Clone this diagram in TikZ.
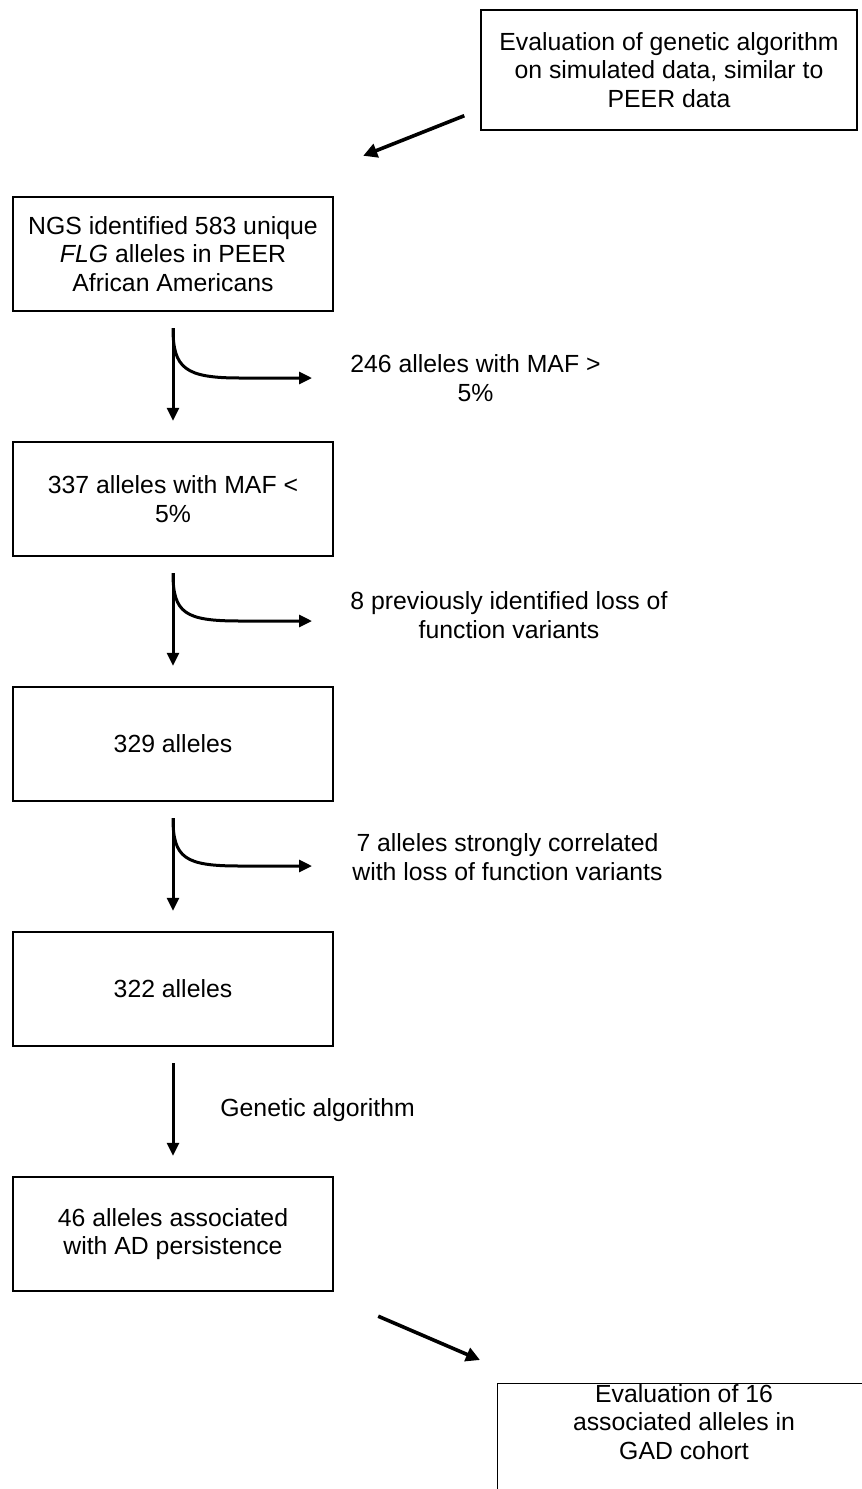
\documentclass[tikz,border=0pt]{standalone}
\usepackage{fontspec}
\setmainfont{Liberation Sans}
\usetikzlibrary{positioning,arrows.meta}

\begin{document}
\begin{tikzpicture}[x=0.5pt,y=-0.5pt,
font=\fontsize{12.4}{14.2}\selectfont,
box/.style={draw,rectangle,line width=1.2pt,minimum width=160pt,minimum height=57pt,align=center},
sidebox/.style={draw,rectangle,line width=0.7pt,align=center},
note/.style={inner sep=0pt,align=center},
arr/.style={line width=1.5pt,-{Triangle[length=6.5pt,width=6pt]}},
slant/.style={line width=1.8pt,-{Triangle[length=7pt,width=7pt]}}]
\clip (0,0) rectangle (862,1489);

% main column
\node (ngs) [box] at (173,254) {NGS identified 583 unique\\ \textit{FLG} alleles in PEER\\ African Americans};
\node (maf) [box,below=64.3pt of ngs] {337 alleles with MAF <\\ 5\%};
\node (lof) [box,below=64.3pt of maf] {329 alleles};
\node (corr) [box,below=64.3pt of lof] {322 alleles};
\node (ad) [box,below=64.3pt of corr] {46 alleles associated\\ with AD persistence};

% side boxes
\node (sim) [sidebox,minimum width=188pt,minimum height=60pt] at (669,70) {Evaluation of genetic algorithm\\ on simulated data, similar to\\ PEER data};
\node (gad) [sidebox,minimum width=200pt,minimum height=80pt,anchor=north west] at (497,1383) {};
\node (gadtext) [note] at (684,1422) {Evaluation of 16\\ associated alleles in\\ GAD cohort};

% removed alleles
\node (rej1) [note,anchor=west] at (350,378) {246 alleles with MAF >\\ 5\%};
\node (rej2) [note,anchor=west] at (350,615) {8 previously identified loss of\\ function variants};
\node (rej3) [note,anchor=west] at (352,857) {7 alleles strongly correlated\\ with loss of function variants};
\node (ga) [note,anchor=west] at (220,1110) {Genetic algorithm};

\coordinate (cut1) at (312,378);
\coordinate (cut2) at (312,621);
\coordinate (cut3) at (312,866);

% filtering steps
\draw[arr] ([yshift=-8pt]ngs.south) -- ([yshift=10pt]maf.north);
\draw[arr] ([yshift=-8pt]ngs.south) .. controls +(0,40) and (185,378) .. (240,378) -- (cut1);
\draw[arr] ([yshift=-8pt]maf.south) -- ([yshift=10pt]lof.north);
\draw[arr] ([yshift=-8pt]maf.south) .. controls +(0,40) and (185,621) .. (240,621) -- (cut2);
\draw[arr] ([yshift=-8pt]lof.south) -- ([yshift=10pt]corr.north);
\draw[arr] ([yshift=-8pt]lof.south) .. controls +(0,40) and (185,866) .. (240,866) -- (cut3);
\draw[arr] ([yshift=-8pt]corr.south) -- ([yshift=10pt]ad.north);

% evaluation arrows
\draw[slant] ([shift={(-8pt,7.5pt)}]sim.south west) -- ([shift={(14.5pt,20pt)}]ngs.north east);
\draw[slant] ([shift={(22pt,-12pt)}]ad.south east) -- ([shift={(-8.5pt,11.5pt)}]gad.north west);
\end{tikzpicture}
\end{document}
